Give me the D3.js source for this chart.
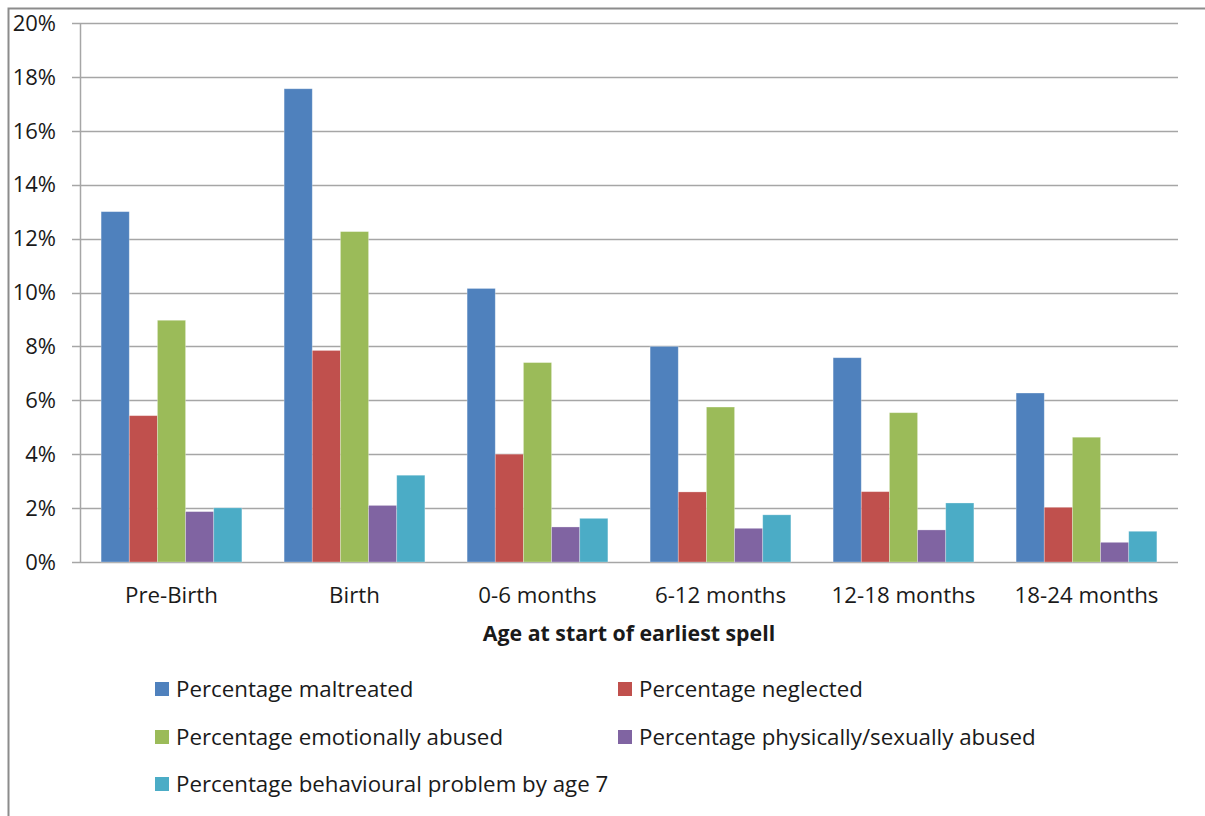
<!DOCTYPE html>
<html><head><meta charset="utf-8">
<script src="https://cdn.jsdelivr.net/npm/d3@7"></script>
<style>body{margin:0;background:#fff}svg{display:block}text{font-family:"Open Sans",Lato,sans-serif;fill:#1a1a1a}</style>
</head><body><svg id="c" width="1205" height="816"></svg>
<script>
const categories = ["Pre-Birth","Birth","0-6 months","6-12 months","12-18 months","18-24 months"];
const seriesNames = ["Percentage maltreated","Percentage neglected","Percentage emotionally abused","Percentage physically/sexually abused","Percentage behavioural problem by age 7"];
const maltreated = [13.0,17.56,10.15,8.0,7.58,6.27];
const neglected = [5.43,7.85,4.0,2.6,2.61,2.03];
const emotional = [8.97,12.26,7.4,5.75,5.54,4.63];
const physical = [1.87,2.1,1.3,1.25,1.19,0.73];
const behavioural = [2.01,3.22,1.62,1.75,2.19,1.14];
const colors = ["#4F81BD","#C0504D","#9BBB59","#8064A2","#4BACC6"];
const yTicks = [0,2,4,6,8,10,12,14,16,18,20];
const xTitle = "Age at start of earliest spell";

const seriesData = [maltreated,neglected,emotional,physical,behavioural];
const svg = d3.select("#c");
svg.append("path").attr("d","M8.5,816 V8.5 H1205").attr("fill","none").attr("stroke","#8c8c8c").attr("stroke-width",2);

const x0 = d3.scaleBand().domain(categories).range([80,1178]).paddingInner(1.5/6.5).paddingOuter(0.75/6.5);
const x1 = d3.scaleBand().domain(d3.range(5)).range([0,x0.bandwidth()]);
const y = d3.scaleLinear().domain([0,20]).range([562,23]);

svg.append("g").selectAll("line").data(yTicks).join("line")
  .attr("x1",72).attr("x2",1178).attr("y1",d=>Math.round(y(d))+0.5).attr("y2",d=>Math.round(y(d))+0.5)
  .attr("stroke","#a6a6a6").attr("stroke-width",1.5);
svg.append("line").attr("x1",80.5).attr("x2",80.5).attr("y1",23).attr("y2",562).attr("stroke","#a6a6a6").attr("stroke-width",1.5);

svg.append("g").selectAll("text").data(yTicks).join("text")
  .attr("x",56).attr("y",d=>y(d)).attr("dy","0.35em").attr("text-anchor","end")
  .style("font-size","22px").text(d=>d+"%");

const g = svg.append("g").selectAll("g").data(categories).join("g").attr("transform",d=>`translate(${x0(d)},0)`);
g.selectAll("rect").data((d,i)=>seriesData.map((s,k)=>({k,v:s[i]}))).join("rect")
  .attr("x",d=>x1(d.k)).attr("width",x1.bandwidth()).attr("y",d=>y(d.v)).attr("height",d=>y(0)-y(d.v))
  .attr("fill",d=>colors[d.k]).attr("stroke","rgba(255,255,255,0.35)").attr("stroke-width",0.8);

svg.append("g").selectAll("text").data(categories).join("text")
  .attr("x",d=>x0(d)+x0.bandwidth()/2).attr("y",595).attr("dy","0.35em").attr("text-anchor","middle")
  .style("font-size","22.3px").text(d=>d);

svg.append("text").attr("x",629).attr("y",634).attr("dy","0.35em").attr("text-anchor","middle")
  .style("font-size","21.3px").style("font-weight","bold").text(xTitle);

const legPos = [[155,689],[618,689],[155,737],[618,737],[155,784]];
const lg = svg.append("g").selectAll("g").data(seriesNames).join("g").attr("transform",(d,i)=>`translate(${legPos[i][0]},${legPos[i][1]})`);
lg.append("rect").attr("x",0).attr("y",-7).attr("width",14).attr("height",14).attr("fill",(d,i)=>colors[i]);
lg.append("text").attr("x",21).attr("y",0).attr("dy","0.35em").style("font-size","22.3px").text(d=>d);
</script></body></html>
